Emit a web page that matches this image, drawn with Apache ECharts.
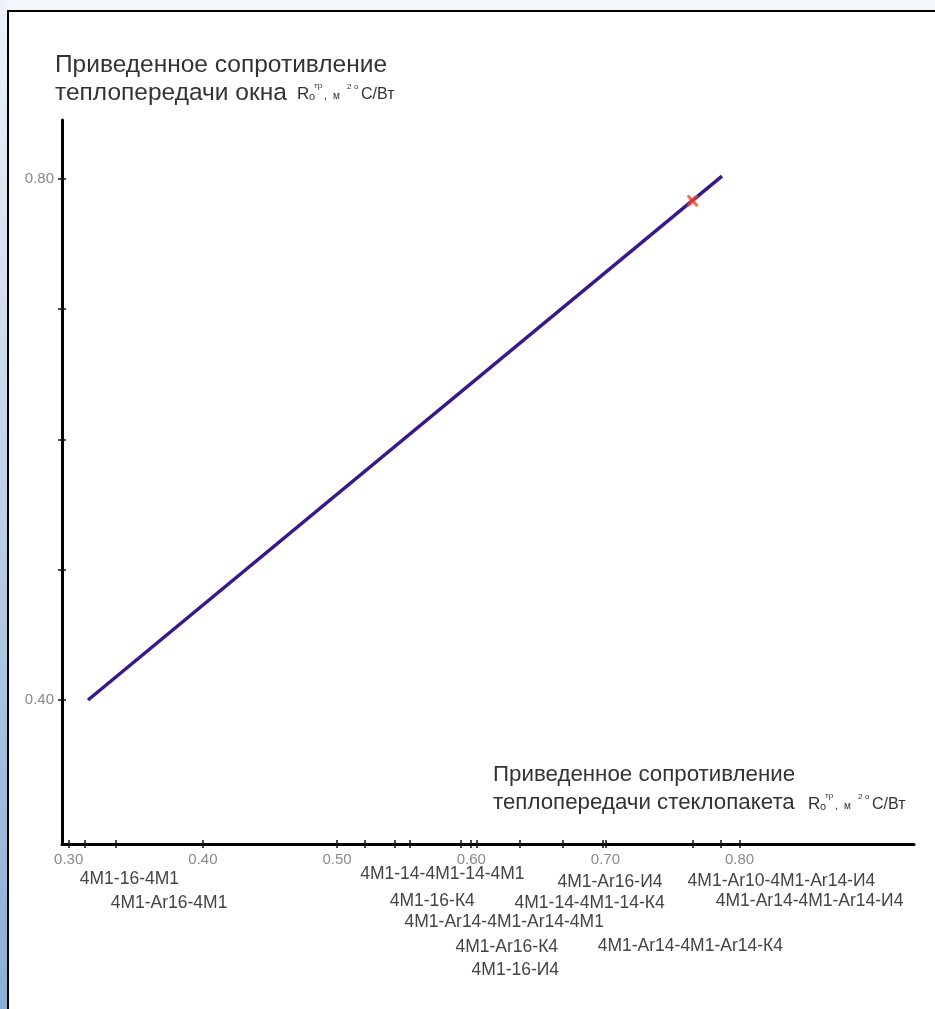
<!DOCTYPE html>
<html>
<head>
<meta charset="utf-8">
<script src="https://cdn.jsdelivr.net/npm/echarts@6/dist/echarts.min.js"></script>
<style>
html, body { margin: 0; padding: 0; }
body { width: 935px; height: 1009px; position: relative; overflow: hidden; background: #f3f6fa; }
#strip { position: absolute; left: 0; top: 0; width: 7px; height: 1009px;
  background: linear-gradient(180deg, #eef3f9 0%, #bcd0e8 50%, #8aaed6 100%); }
#frame { position: absolute; left: 7px; top: 10px; width: 935px; height: 1010px;
  border: 2px solid #000; background: #fff; }
#chart { position: absolute; left: 0; top: 0; width: 935px; height: 1009px; }
</style>
</head>
<body>
<div id="strip"></div>
<div id="frame"></div>
<div id="chart"></div>
<script>
// glazing units and their Ro (x axis ticks)
const glazingTypes = [
  '4M1-16-4M1', '4M1-Ar16-4M1', '4M1-14-4M1-14-4M1', '4M1-16-К4',
  '4M1-Ar14-4M1-Ar14-4M1', '4M1-Ar16-К4', '4M1-16-И4', '4M1-14-4M1-14-К4',
  '4M1-Ar16-И4', '4M1-Ar14-4M1-Ar14-К4', '4M1-Ar10-4M1-Ar14-И4', '4M1-Ar14-4M1-Ar14-И4'
];
const glazingRo = [0.312, 0.335, 0.521, 0.543, 0.554, 0.592, 0.604, 0.636, 0.668, 0.698, 0.765, 0.786];

const xLabelValues = [0.3, 0.4, 0.5, 0.6, 0.7, 0.8];
const yTickValues = [0.4, 0.5, 0.6, 0.7, 0.8];
const yLabelValues = [0.4, 0.8];

// window Ro vs glazing Ro
const lineGlass = [0.3144, 0.7869];
const lineWindow = [0.400, 0.802];
const markGlass = [0.765];
const markWindow = [0.783];

// label rows under the axis (pixel centres)
const labelRowY = [879, 903, 874, 901, 922, 947, 970, 903, 882, 946, 881, 901];

const FONT = '"Liberation Sans", Arial, sans-serif';
const chart = echarts.init(document.getElementById('chart'));

const xTicks = xLabelValues.concat(glazingRo);
const xBase = {
  type: 'value', min: 0.295, max: 0.93, position: 'bottom',
  splitLine: { show: false }
};
const yBase = {
  type: 'value', min: 0.2895, max: 0.845, position: 'left',
  splitLine: { show: false }
};

chart.setOption({
  animation: false,
  grid: { left: 62, right: 21, top: 120, bottom: 165, containLabel: false, outerBoundsMode: 'none' },
  xAxis: [
    Object.assign({}, xBase, {
      axisLine: { lineStyle: { color: '#000', width: 3 } },
      axisTick: { customValues: xTicks, length: 4, lineStyle: { color: '#111', width: 1.5 } },
      axisLabel: {
        customValues: xLabelValues, margin: 8, color: '#8a8a8a', fontSize: 15, fontFamily: FONT,
        formatter: v => v.toFixed(2)
      }
    }),
    Object.assign({}, xBase, {
      axisLine: { show: false },
      axisTick: { customValues: xTicks, inside: true, length: 4, lineStyle: { color: '#111', width: 1.5 } },
      axisLabel: { show: false }
    })
  ],
  yAxis: [
    Object.assign({}, yBase, {
      axisLine: { lineStyle: { color: '#000', width: 3 } },
      axisTick: { customValues: yTickValues, length: 4, lineStyle: { color: '#111', width: 1.5 } },
      axisLabel: {
        customValues: yLabelValues, margin: 8, color: '#8a8a8a', fontSize: 15, fontFamily: FONT,
        formatter: v => v.toFixed(2)
      }
    }),
    Object.assign({}, yBase, {
      axisLine: { show: false },
      axisTick: { customValues: yTickValues, inside: true, length: 4, lineStyle: { color: '#111', width: 1.5 } },
      axisLabel: { show: false }
    })
  ],
  series: [
    {
      type: 'line',
      data: lineGlass.map((x, i) => [x, lineWindow[i]]),
      symbol: 'none',
      lineStyle: { color: '#38198c', width: 3.5 },
      z: 3
    },
    {
      type: 'scatter',
      data: markGlass.map((x, i) => [x, markWindow[i]]),
      symbol: 'path://M0,1 L2,0 L5,3 L8,0 L10,1 L7,5 L10,9 L8,10 L5,7 L2,10 L0,9 L3,5 Z',
      symbolSize: 12,
      itemStyle: { color: '#ff4020' },
      z: 4
    }
  ]
});

// text pieces of an axis title with the Ro unit
function unitTitle(x, y, line1, line2, size, r0) {
  const c = '#333';
  const t = (text, dx, dy, fs) => ({
    type: 'text', x: dx, y: dy,
    style: { text: text, fill: c, font: fs + 'px ' + FONT, verticalAlign: 'middle' }
  });
  return [
    t(line1, x, y, size),
    t(line2, x, y + 28, size),
    t('R', r0, y + 29, 17),
    t('о', r0 + 12, y + 32, 11),
    t('тр', r0 + 17, y + 21, 8),
    t(',', r0 + 27, y + 31, 11),
    t('м', r0 + 36, y + 31, 10),
    t('2', r0 + 50, y + 22, 8),
    t('о', r0 + 57, y + 22, 8),
    t('С/Вт', r0 + 64, y + 30, 16)
  ];
}

const graphics = [];
unitTitle(55, 65, 'Приведенное сопротивление', 'теплопередачи окна', 24.5, 297)
  .forEach(g => graphics.push(g));
unitTitle(493, 775, 'Приведенное сопротивление', 'теплопередачи стеклопакета', 22.3, 808)
  .forEach(g => graphics.push(g));

glazingTypes.forEach((name, i) => {
  const px = chart.convertToPixel({ xAxisIndex: 0 }, glazingRo[i]);
  graphics.push({
    type: 'text', x: px - 5, y: labelRowY[i],
    style: { text: name, fill: '#444', font: '17.5px ' + FONT, verticalAlign: 'middle' }
  });
});

chart.setOption({ graphic: graphics });
</script>
</body>
</html>
